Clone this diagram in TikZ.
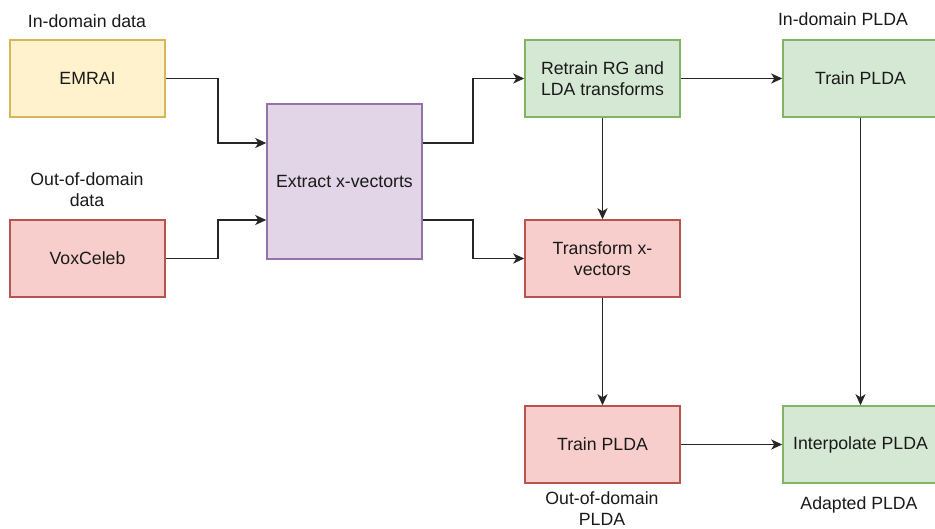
\documentclass[tikz,border=0pt]{standalone}
\usepackage{fontspec}
\setmainfont{Liberation Sans}
\usetikzlibrary{arrows.meta,calc}
\definecolor{yfill}{HTML}{FFF2CC}\definecolor{ydraw}{HTML}{D6B656}
\definecolor{rfill}{HTML}{F8CECC}\definecolor{rdraw}{HTML}{B85450}
\definecolor{pfill}{HTML}{E1D5E7}\definecolor{pdraw}{HTML}{9673A6}
\definecolor{gfill}{HTML}{D5E8D4}\definecolor{gdraw}{HTML}{82B366}
\definecolor{txt}{HTML}{1A1A1A}
\begin{document}
\begin{tikzpicture}[x=1pt,y=-1pt,
  font=\fontsize{17.7}{21}\selectfont, text=txt,
  box/.style={rectangle, minimum width=155pt, minimum height=77pt, inner sep=0pt, line width=1.5pt, align=center},
  ybox/.style={box, fill=yfill, draw=ydraw},
  rbox/.style={box, fill=rfill, draw=rdraw},
  pbox/.style={box, fill=pfill, draw=pdraw, minimum height=155pt},
  gbox/.style={box, fill=gfill, draw=gdraw},
  lbl/.style={align=center, inner sep=0pt},
  arr/.style={line width=1.6pt, draw=black!85, -{Stealth[length=11pt,width=10pt,inset=3pt]}}
]
\useasboundingbox (0,0) rectangle (935,528);
\node[ybox] (emrai) at (87.5,78.5) {EMRAI};
\node[rbox] (vox) at (87.5,258.5) {VoxCeleb};
\node[pbox] (extract) at (344.5,181.5) {Extract x-vectorts};
\node[gbox] (retrain) at (602.5,78.5) {Retrain RG and\\LDA transforms};
\node[gbox] (trainin) at (860.5,78.5) {Train PLDA};
\node[rbox] (transform) at (602.5,258.5) {Transform x-\\vectors};
\node[rbox] (trainout) at (602.5,444.5) {Train PLDA};
\node[gbox] (interp) at (860.5,444.5) {Interpolate PLDA};

\node[lbl] (l1) at (87,21) {In-domain data};
\node[lbl] (l2) at (87,190) {Out-of-domain\\data};
\node[lbl] (l3) at (843,19) {In-domain PLDA};
\node[lbl] (l4) at (602,509) {Out-of-domain\\PLDA};
\node[lbl] (l5) at (859,505) {Adapted PLDA};

\draw[arr] (emrai.east) -- ([xshift=52pt]emrai.east) |- ([yshift=38.5pt]extract.west);
\draw[arr] (vox.east) -- ([xshift=52pt]vox.east) |- ([yshift=-38.5pt]extract.west);
\draw[arr] ([yshift=38.5pt]extract.east) -| ([xshift=-51pt]retrain.west) -- (retrain.west);
\draw[arr] ([yshift=-38.5pt]extract.east) -| ([xshift=-51pt]transform.west) -- (transform.west);
\draw[arr] (retrain) -- (transform);
\draw[arr] (transform) -- (trainout);
\draw[arr] (retrain) -- (trainin);
\draw[arr] (trainin) -- (interp);
\draw[arr] (trainout) -- (interp);
\end{tikzpicture}
\end{document}
